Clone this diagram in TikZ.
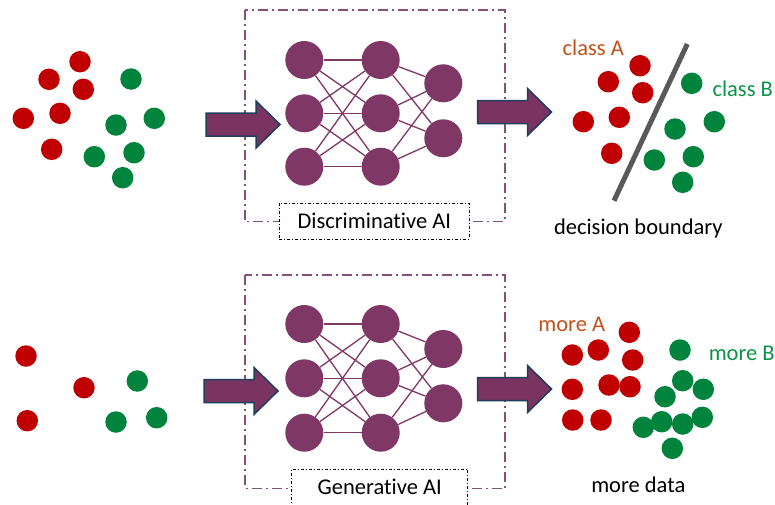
\documentclass[tikz,border=0pt]{standalone}
\usepackage{fontspec}
\setmainfont{Carlito}[Ligatures={NoCommon,NoContextual}]
\definecolor{dred}{HTML}{C00000}
\definecolor{dgreen}{HTML}{00843D}
\definecolor{neur}{HTML}{7F3766}
\definecolor{framec}{HTML}{85507A}
\definecolor{arrfill}{HTML}{7B3361}
\definecolor{arredge}{HTML}{1F3F5A}
\definecolor{txtA}{HTML}{C2501A}
\definecolor{txtB}{HTML}{0B9448}
\definecolor{bound}{HTML}{595959}
\tikzset{
  reddot/.style={circle,fill=dred,minimum size=21.5pt,inner sep=0pt},
  greendot/.style={circle,fill=dgreen,minimum size=21.5pt,inner sep=0pt},
  neuron/.style={circle,fill=neur,minimum size=38pt,inner sep=0pt},
  wire/.style={draw=neur,line width=1.3pt},
  framebox/.style={draw=framec,line width=1.4pt,dash pattern=on 10pt off 4pt on 2pt off 4pt},
  labelbox/.style={draw=black,fill=white,line width=0.9pt,dash pattern=on 3pt off 2pt on 1pt off 2pt,minimum height=36pt,inner sep=0pt,font=\fontsize{22.5}{27}\selectfont},
  lbl/.style={font=\fontsize{22.5}{27}\selectfont,inner sep=0pt,anchor=base},
  blockarrow/.pic={\draw[fill=arrfill,draw=arredge,line width=1.5pt,line join=miter]
     (-37,-11.5) -- (13,-11.5) -- (13,-23.5) -- (37,0) -- (13,23.5) -- (13,11.5) -- (-37,11.5) -- cycle;}
}
\begin{document}
\begin{tikzpicture}[x=1pt,y=-1pt]
\useasboundingbox (0,0) rectangle (775,504);
\fill[white] (0,0) rectangle (775,504);
% ---------- top row ----------
\node[reddot] (a1) at (80,61.7) {};
\node[reddot] (a2) at (49,79.3) {};
\node[reddot] (a3) at (83.3,89.3) {};
\node[reddot] (a4) at (23.3,118.3) {};
\node[reddot] (a5) at (60,113.3) {};
\node[reddot] (a6) at (51.7,149.3) {};
\node[greendot] (b1) at (131,79) {};
\node[greendot] (b2) at (154.3,118.3) {};
\node[greendot] (b3) at (116,125) {};
\node[greendot] (b4) at (134,152.7) {};
\node[greendot] (b5) at (94.3,156.7) {};
\node[greendot] (b6) at (122.7,177.7) {};
\draw[framebox] (245,10) rectangle (505,221.7);
\foreach \n/\y in {1/60,2/113.3,3/166.7}{
  \node[neuron] (t1\n) at (304.3,\y) {};
  \node[neuron] (t2\n) at (380.7,\y) {};
}
\node[neuron] (t31) at (443.3,83.3) {};
\node[neuron] (t32) at (443.3,138.3) {};
\foreach \i in {1,2,3}{
  \foreach \j in {1,2,3}{\draw[wire] (t1\i) -- (t2\j);}
  \foreach \j in {1,2}{\draw[wire] (t2\i) -- (t3\j);}
}
\node[labelbox,minimum width=190pt] (dlab) at (374.3,221.3) {Discriminative AI};
\pic at (243,124.5) {blockarrow};
\pic at (514.5,112) {blockarrow};
\node[reddot] (c1) at (640,65.7) {};
\node[reddot] (c2) at (608.3,81.7) {};
\node[reddot] (c3) at (642.7,92.7) {};
\node[reddot] (c4) at (583.3,121.7) {};
\node[reddot] (c5) at (619.3,117.3) {};
\node[reddot] (c6) at (611.7,153.3) {};
\node[greendot] (d1) at (691.7,83.3) {};
\node[greendot] (d2) at (714.3,121.7) {};
\node[greendot] (d3) at (675,129) {};
\node[greendot] (d4) at (693.3,156.7) {};
\node[greendot] (d5) at (654.3,160) {};
\node[greendot] (d6) at (682.7,182.3) {};
\coordinate (bdtop) at (687.3,44);
\coordinate (bdbot) at (614,200.7);
\draw[bound,line width=5pt] (bdtop) -- (bdbot);
\node[lbl,text=txtA] (clA) at (593.3,55) {class A};
\node[lbl,text=txtB] (clB) at (742.7,96) {class B};
\node[lbl] (dbl) at (638.3,234) {decision boundary};
% ---------- bottom row ----------
\node[reddot] (e1) at (26,356) {};
\node[reddot] (e2) at (84,387.7) {};
\node[reddot] (e3) at (27.3,420.7) {};
\node[greendot] (f1) at (137.3,381) {};
\node[greendot] (f2) at (156.7,417.7) {};
\node[greendot] (f3) at (116,422) {};
\draw[framebox] (245,275) rectangle (505,488.3);
\foreach \n/\y in {1/324,2/378.3,3/432.7}{
  \node[neuron] (g1\n) at (304.3,\y) {};
  \node[neuron] (g2\n) at (380.7,\y) {};
}
\node[neuron] (g31) at (443.3,349) {};
\node[neuron] (g32) at (443.3,403.3) {};
\foreach \i in {1,2,3}{
  \foreach \j in {1,2,3}{\draw[wire] (g1\i) -- (g2\j);}
  \foreach \j in {1,2}{\draw[wire] (g2\i) -- (g3\j);}
}
\node[labelbox,minimum width=176pt] (glab) at (379.7,487.3) {Generative AI};
\pic at (241,391) {blockarrow};
\pic at (514.5,389) {blockarrow};
\node[reddot] (h1) at (629.3,332.3) {};
\node[reddot] (h2) at (598.3,350) {};
\node[reddot] (h3) at (572.3,355) {};
\node[reddot] (h4) at (632.7,360) {};
\node[reddot] (h5) at (572.3,389.3) {};
\node[reddot] (h6) at (609,385) {};
\node[reddot] (h7) at (630,386.7) {};
\node[reddot] (h8) at (572.7,420) {};
\node[reddot] (h9) at (601,420) {};
\node[greendot] (k1) at (680,350) {};
\node[greendot] (k2) at (682.7,380.7) {};
\node[greendot] (k3) at (703.3,389.3) {};
\node[greendot] (k4) at (665,396.7) {};
\node[greendot] (k5) at (702.3,417.3) {};
\node[greendot] (k6) at (682.7,424) {};
\node[greendot] (k7) at (661.7,421.7) {};
\node[greendot] (k8) at (643.3,427.3) {};
\node[greendot] (k9) at (672.3,448.3) {};
\node[lbl,text=txtA] (mA) at (571.7,331.7) {more A};
\node[lbl,text=txtB] (mB) at (741.7,360.7) {more B};
\node[lbl] (md) at (638.3,492.7) {more data};
\end{tikzpicture}
\end{document}
